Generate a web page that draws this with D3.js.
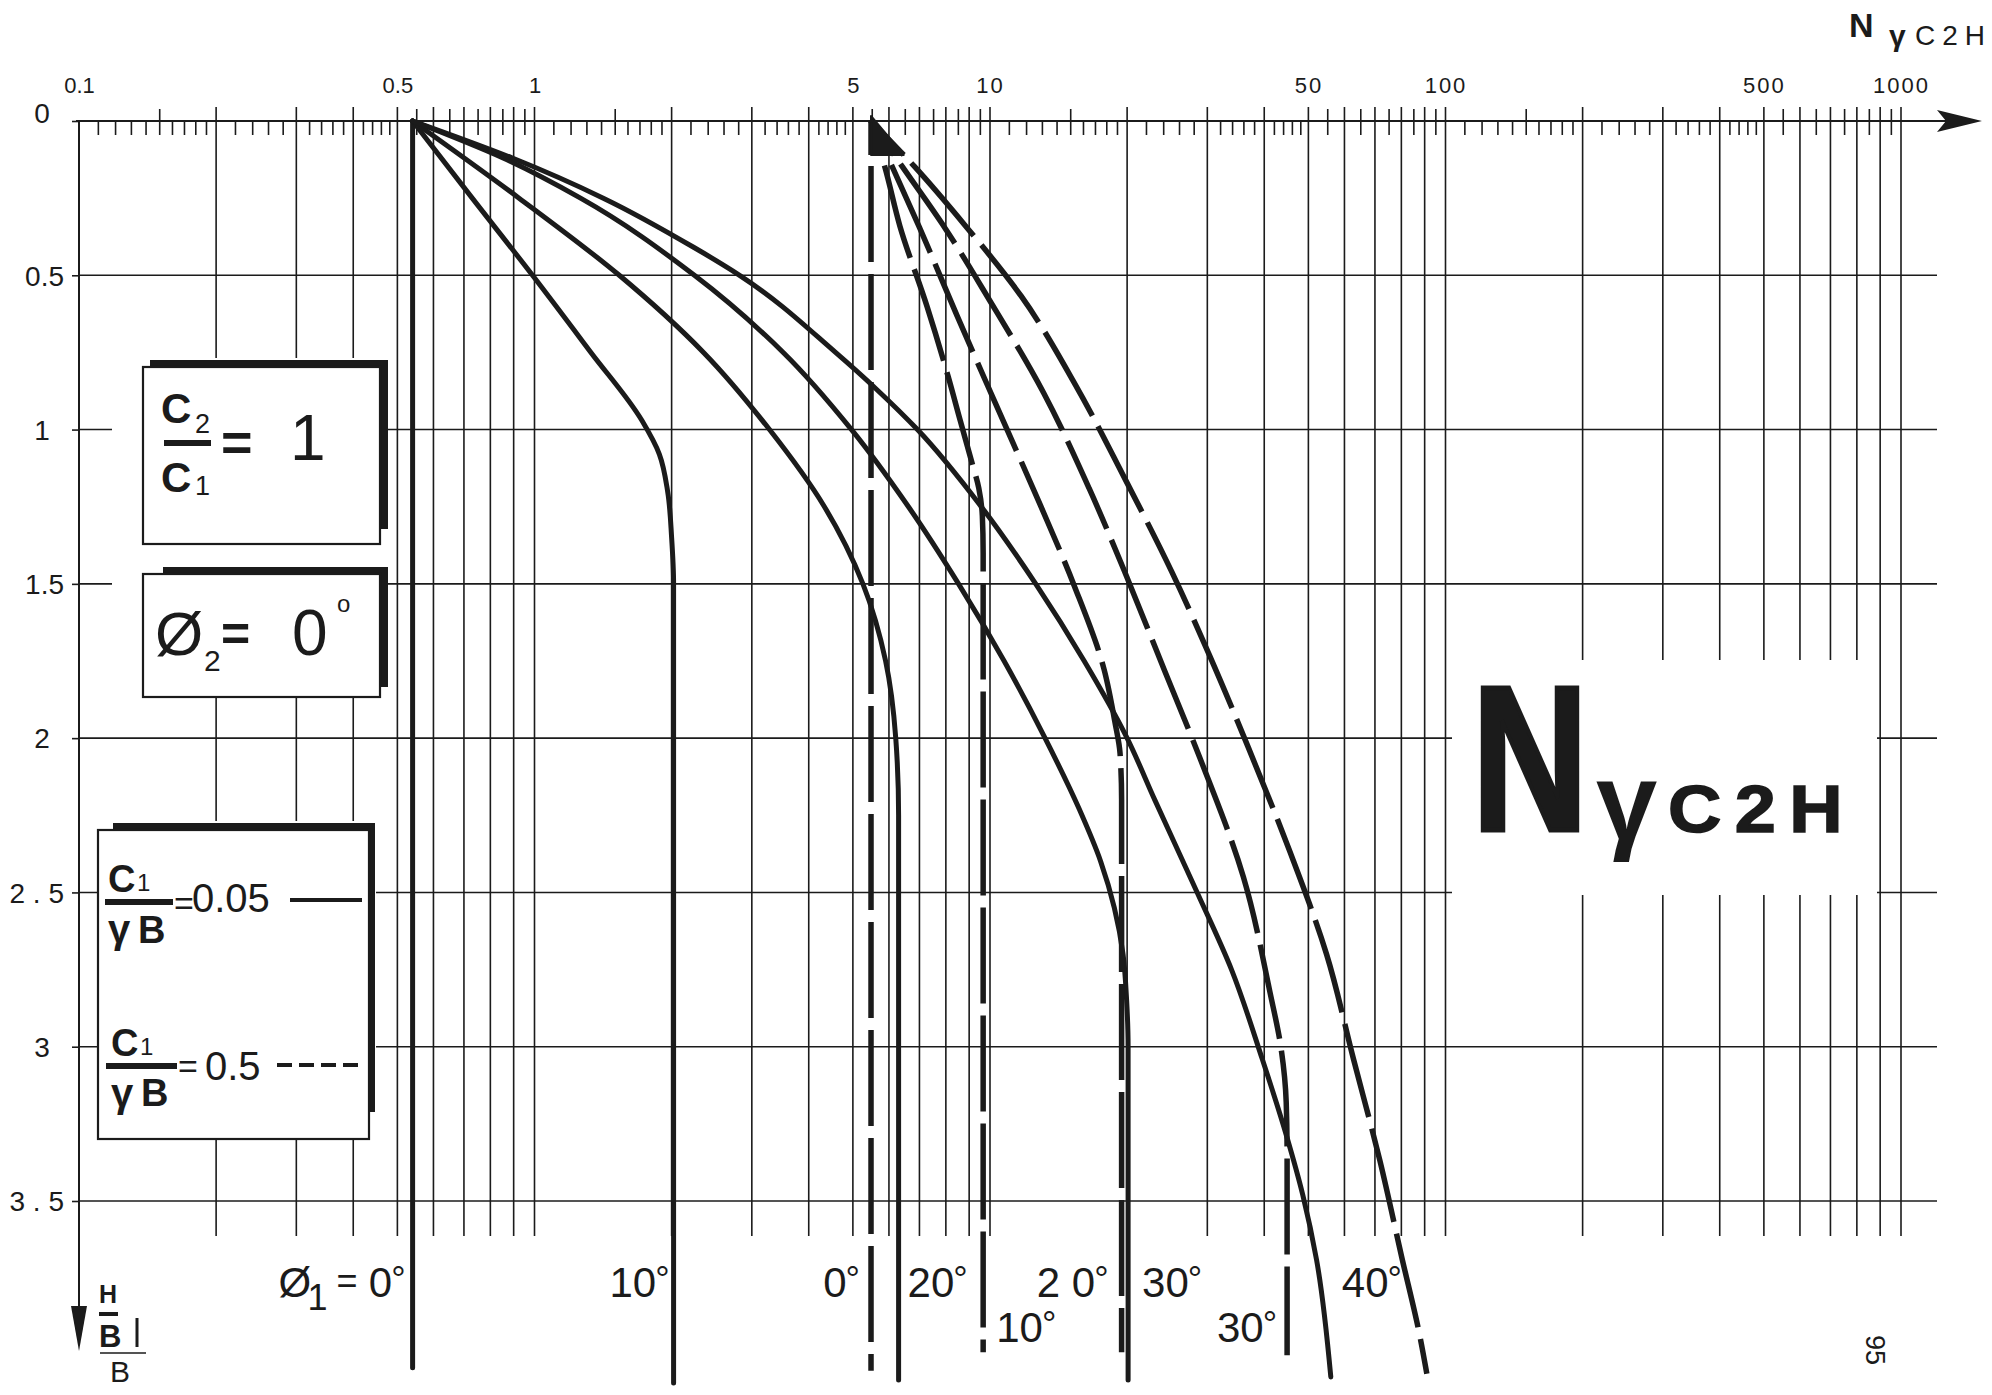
<!DOCTYPE html>
<html><head><meta charset="utf-8">
<script src="https://cdn.jsdelivr.net/npm/d3@7"></script>
<style>
html,body{margin:0;padding:0;background:#fff;}
svg{display:block;background:#fff;}
text{font-family:"Liberation Sans", Arial, Helvetica, sans-serif;fill:#1b1b1b;}
</style></head><body>
<svg id="chart" width="1992" height="1395"></svg>
<script>
// ---------------- DATA ----------------
const xTickValues = [0.1, 0.5, 1, 5, 10, 50, 100, 500, 1000];
const xTickLabels = ["0.1", "0.5", "1", "5", "10", "50", "100", "500", "1000"];
const yTickValues = [0, 0.5, 1, 1.5, 2, 2.5, 3, 3.5];
const yTickLabels = ["0", "0.5", "1", "1.5", "2", "2 . 5", "3", "3 . 5"];

// curves: [H/B, N_gammaC2H]   solid: C1/(gamma B) = 0.05
const solidPhi0  = [[0, 0.54], [4.04, 0.54]];
const solidPhi10 = [[0, 0.54], [0.25, 0.73], [0.5, 0.99], [0.75, 1.33], [0.97, 1.72], [1.08, 1.88], [1.2, 1.96], [1.35, 2.0], [1.5, 2.02], [4.09, 2.02]];
const solidPhi20 = [[0, 0.54], [0.25, 0.925], [0.5, 1.535], [0.75, 2.35], [1.0, 3.28], [1.25, 4.33], [1.5, 5.26], [1.75, 5.9], [2.0, 6.21], [2.25, 6.3], [4.08, 6.3]];
const solidPhi30 = [[0, 0.54], [0.12, 0.853], [0.25, 1.262], [0.5, 2.244], [0.75, 3.516], [1.0, 4.966], [1.25, 6.622], [1.5, 8.53], [1.75, 10.74], [2.0, 13.21], [2.23, 15.7], [2.4, 17.5], [2.55, 18.75], [2.7, 19.59], [2.85, 19.95], [3.0, 20.1], [4.08, 20.1]];
const solidPhi40 = [[0, 0.54], [0.12, 0.894], [0.25, 1.416], [0.41, 2.24], [0.5, 2.82], [0.75, 4.58], [0.87, 5.64], [1.0, 6.93], [1.25, 9.57], [1.5, 12.6], [1.75, 16.1], [2.0, 20.0], [2.2, 23.0], [2.5, 28.5], [2.75, 33.9], [3.04, 39.6], [3.29, 44.8], [3.48, 48.6], [3.69, 52.1], [4.07, 56.0]];

// dashed: C1/(gamma B) = 0.5
const dashedPhi0  = [[0, 5.48], [4.05, 5.48]];
const dashedPhi10 = [[0, 5.48], [0.15, 5.88], [0.34, 6.34], [0.6, 7.27], [0.83, 8.1], [0.97, 8.6], [1.1, 9.1], [1.19, 9.45], [1.28, 9.62], [1.4, 9.66], [3.99, 9.66]];
const dashedPhi20 = [[0, 5.48], [0.148, 6.1], [0.345, 7.0], [0.63, 8.46], [0.925, 10.35], [1.245, 12.9], [1.505, 15.3], [1.777, 17.8], [1.947, 18.8], [2.05, 19.3], [2.2, 19.45], [3.99, 19.45]];
const dashedPhi30 = [[0, 5.48], [0.148, 6.42], [0.345, 7.95], [0.58, 9.97], [0.88, 13.1], [1.19, 16.5], [1.476, 19.95], [1.777, 24.1], [2.07, 29.0], [2.45, 36.0], [2.825, 41.2], [3.0, 43.5], [3.18, 44.7], [3.35, 44.9], [4.0, 44.9]];
const dashedPhi40 = [[0, 5.48], [0.149, 6.84], [0.337, 8.8], [0.567, 11.7], [0.855, 15.4], [1.148, 19.6], [1.463, 25.1], [1.735, 30.4], [2.03, 36.9], [2.37, 45.6], [2.7, 54.8], [3.04, 62.8], [3.37, 71.8], [3.68, 80.1], [3.94, 87.9], [4.06, 91.0]];

const solidCurveLabels  = ["0°", "10°", "20°", "30°", "40°"];
const dashedCurveLabels = ["0°", "10°", "2 0°", "30°", ""];
const legendSolidValue  = "0.05";
const legendDashedValue = "0.5";

// ---------------- DRAWING ----------------
const INK = "#1b1b1b";
const FONT = '"Liberation Sans", Arial, Helvetica, sans-serif';
const svg = d3.select("#chart");

const x = d3.scaleLog().domain([0.1, 1000]).range([79, 1901]);
const y = d3.scaleLinear().domain([0, 3.5]).range([121, 1201]);
const axisY = y(0);
const gridBottom = 1236;
const gridRight = 1937;

// vertical grid lines
const gGrid = svg.append("g").attr("stroke", INK).attr("stroke-width", 1.6);
gGrid.selectAll("line.v").data(x.ticks().filter(v => v > 0.1)).join("line")
  .attr("x1", d => x(d)).attr("x2", d => x(d))
  .attr("y1", axisY - 14).attr("y2", gridBottom);
// horizontal grid lines
gGrid.selectAll("line.h").data(yTickValues.filter(v => v > 0)).join("line")
  .attr("x1", 79).attr("x2", gridRight)
  .attr("y1", d => y(d)).attr("y2", d => y(d));

// minor ticks on top axis
const minorShort = [], minorLong = [];
[0.1, 1, 10, 100].forEach(D => {
  for (let k = 11; k <= 19; k++) (k === 15 ? minorLong : minorShort).push(D * k / 10);
  for (let k = 11; k <= 24; k++) if (k % 5 !== 0) minorShort.push(D * k / 5);
  for (let k = 11; k <= 19; k += 2) minorLong.push(D * k / 2);
});
const axShort = d3.axisBottom(x).tickValues(minorShort).tickSize(14).tickFormat("");
const gShort = svg.append("g").attr("transform", `translate(0,${axisY})`).call(axShort);
gShort.select(".domain").remove();
gShort.selectAll("line").attr("stroke", INK).attr("stroke-width", 1.6);
const axLong = d3.axisBottom(x).tickValues(minorLong).tickSize(26).tickFormat("");
const gLong = svg.append("g").attr("transform", `translate(0,${axisY - 12})`).call(axLong);
gLong.select(".domain").remove();
gLong.selectAll("line").attr("stroke", INK).attr("stroke-width", 1.6);

// top axis line + arrow
svg.append("line").attr("x1", 76).attr("x2", 1950).attr("y1", axisY).attr("y2", axisY)
  .attr("stroke", INK).attr("stroke-width", 2);
svg.append("path")
  .attr("d", `M1937,${axisY - 11} L1982,${axisY} L1937,${axisY + 11} L1946,${axisY} Z`)
  .attr("fill", INK);

// top axis labels
const topAxis = d3.axisTop(x).tickValues(xTickValues)
  .tickFormat((d, i) => xTickLabels[i]).tickSize(0).tickPadding(0);
const gTop = svg.append("g").attr("transform", `translate(0,${axisY})`).call(topAxis);
gTop.select(".domain").remove();
gTop.attr("font-family", FONT).attr("font-size", 22);
gTop.selectAll("text").attr("y", -28).attr("dy", 0).attr("fill", INK)
  .attr("letter-spacing", d => d >= 10 ? 2 : 0);

// left axis (H/B)
svg.append("line").attr("x1", 79).attr("x2", 79).attr("y1", axisY).attr("y2", 1335)
  .attr("stroke", INK).attr("stroke-width", 2);
svg.append("path").attr("d", "M71,1306 L87,1306 L79,1351 Z").attr("fill", INK);
const leftAxis = d3.axisLeft(y).tickValues(yTickValues)
  .tickFormat((d, i) => yTickLabels[i]).tickSize(7).tickPadding(0);
const gLeft = svg.append("g").attr("transform", "translate(79,0)").call(leftAxis);
gLeft.select(".domain").remove();
gLeft.attr("font-family", FONT).attr("font-size", 28);
gLeft.selectAll("line").attr("stroke", INK).attr("stroke-width", 1.6);
gLeft.selectAll("text").attr("fill", INK).attr("dy", "0.35em")
  .attr("text-anchor", (d, i) => yTickLabels[i].length > 1 ? "end" : "middle")
  .attr("x", (d, i) => yTickLabels[i].length > 1 ? -15 : -37)
  .attr("y", d => d === 0 ? -8 : 0);

// white masks behind legend boxes and title
const masks = [[112, 358, 276, 339], [98, 821, 278, 318], [1452, 660, 425, 235]];
svg.append("g").selectAll("rect").data(masks).join("rect")
  .attr("x", d => d[0]).attr("y", d => d[1]).attr("width", d => d[2]).attr("height", d => d[3])
  .attr("fill", "#fff");

// legend boxes with shadow
function box(bx, by, bw, bh, sh) {
  svg.append("rect").attr("x", bx + sh[0]).attr("y", by - 7).attr("width", bw - sh[0] + sh[1])
    .attr("height", bh - sh[2]).attr("fill", INK);
  svg.append("rect").attr("x", bx).attr("y", by).attr("width", bw).attr("height", bh)
    .attr("fill", "#fff").attr("stroke", INK).attr("stroke-width", 2.2);
}
box(143, 367, 237, 177, [7, 8, 8]);
box(143, 574, 237, 123, [20, 8, 3]);
box(98, 830, 271, 309, [15, 6, 20]);

function txt(t, tx, ty, size, weight, extra) {
  const e = svg.append("text").attr("x", tx).attr("y", ty).attr("font-size", size)
    .attr("font-weight", weight || "normal").text(t);
  if (extra) extra(e);
  return e;
}
// box 1: C2/C1 = 1
txt("C", 161, 423, 42, "bold");
txt("2", 195, 433, 27);
svg.append("rect").attr("x", 164).attr("y", 440).attr("width", 47).attr("height", 6).attr("fill", INK);
txt("C", 161, 492, 42, "bold");
txt("1", 195, 495, 27);
txt("=", 221, 461, 54, "bold");
txt("1", 290, 460, 64);
// box 2: Ø2 = 0°
txt("Ø", 155, 655, 62);
txt("2", 204, 671, 30);
txt("=", 221, 651, 50, "bold");
txt("0", 292, 655, 64);
txt("o", 337, 612, 24);
// box 3: legend
txt("C", 108, 892, 38, "bold");
txt("1", 137, 891, 24);
svg.append("rect").attr("x", 105).attr("y", 899).attr("width", 68).attr("height", 6).attr("fill", INK);
txt("γ", 108, 943, 40, "bold");
txt("B", 138, 943, 38, "bold");
txt("=", 174, 915, 34);
txt(legendSolidValue, 192, 912, 40);
svg.append("line").attr("x1", 290).attr("x2", 362).attr("y1", 900).attr("y2", 900)
  .attr("stroke", INK).attr("stroke-width", 4);
txt("C", 111, 1056, 38, "bold");
txt("1", 140, 1055, 24);
svg.append("rect").attr("x", 106).attr("y", 1063).attr("width", 71).attr("height", 6).attr("fill", INK);
txt("γ", 111, 1107, 40, "bold");
txt("B", 141, 1106, 38, "bold");
txt("=", 178, 1078, 34);
txt(legendDashedValue, 205, 1080, 40);
svg.append("line").attr("x1", 277).attr("x2", 358).attr("y1", 1065).attr("y2", 1065)
  .attr("stroke", INK).attr("stroke-width", 4).attr("stroke-dasharray", "15 7");

// H/B axis title
txt("H", 99, 1303, 25, "bold");
svg.append("rect").attr("x", 99).attr("y", 1312).attr("width", 19).attr("height", 4).attr("fill", INK);
txt("B", 99, 1347, 31, "bold");
svg.append("line").attr("x1", 137).attr("x2", 137).attr("y1", 1318).attr("y2", 1347)
  .attr("stroke", INK).attr("stroke-width", 3);
svg.append("line").attr("x1", 100).attr("x2", 146).attr("y1", 1353).attr("y2", 1353)
  .attr("stroke", INK).attr("stroke-width", 1.5);
txt("B", 110, 1382, 30);

// titles
txt("N", 1849, 37, 34, "bold");
txt("γ", 1889, 46, 30, "bold");
txt("C2H", 1915, 45, 28, null, e => e.attr("letter-spacing", 7));
svg.append("text").attr("transform", "translate(1530,830) scale(0.78,1)")
  .attr("text-anchor", "middle").attr("font-size", 206).attr("font-weight", "bold")
  .attr("stroke", INK).attr("stroke-width", 5).text("N");
txt("γ", 1596, 839, 110, "bold");
svg.append("text").attr("transform", "translate(1668,832) scale(1.12,1)")
  .attr("font-size", 66).attr("font-weight", "bold").attr("letter-spacing", 12)
  .attr("stroke", INK).attr("stroke-width", 1.5).text("C2H");
svg.append("text").attr("transform", "translate(1866,1350) rotate(90)")
  .attr("text-anchor", "middle").attr("font-size", 27).text("95");

// ---------------- CURVES ----------------
const line = d3.line().x(d => x(d[1])).y(d => y(d[0])).curve(d3.curveMonotoneY);
const solidCurves = [solidPhi0, solidPhi10, solidPhi20, solidPhi30, solidPhi40];
const dashedCurves = [dashedPhi0, dashedPhi10, dashedPhi20, dashedPhi30, dashedPhi40];

const gS = svg.append("g");
solidCurves.forEach(c => {
  gS.append("path").attr("d", line(c)).attr("fill", "none").attr("stroke", INK)
    .attr("stroke-width", 5).attr("stroke-linecap", "round").attr("stroke-linejoin", "round");
});

const gD = svg.append("g");
const wedgeY = y(0.11);
const wedgePts = [[x(dashedPhi0[0][1]), y(dashedPhi0[0][0]) - 5]];
dashedCurves.forEach(c => {
  const p = gD.append("path").attr("d", line(c)).attr("fill", "none").attr("stroke", INK)
    .attr("stroke-width", 5.5);
  const node = p.node();
  const L = node.getTotalLength();
  let lo = 0, hi = L;
  for (let i = 0; i < 40; i++) {
    const m = (lo + hi) / 2;
    if (node.getPointAtLength(m).y < wedgeY) lo = m; else hi = m;
  }
  const pt = node.getPointAtLength(lo);
  wedgePts.push([pt.x, pt.y]);
  const arr = [lo, 11];
  let acc = lo + 11;
  while (acc < L + 120) { arr.push(96, 12); acc += 108; }
  p.attr("stroke-dasharray", arr.map(v => v.toFixed(1)).join(" "));
});
gD.append("polygon").attr("points", wedgePts.map(p => p.join(",")).join(" "))
  .attr("fill", INK).attr("stroke", INK).attr("stroke-width", 2).attr("stroke-linejoin", "round");

// ---------------- CURVE LABELS ----------------
const rowY = [1297, 1342];
function degLabel(t, px, py, anchor) {
  const e = svg.append("text").attr("x", px).attr("y", py).attr("font-size", 42)
    .attr("text-anchor", anchor);
  e.append("tspan").text(t.replace("°", ""));
  e.append("tspan").attr("font-size", 36).attr("dx", -1).attr("dy", -5).text("°");
  return e;
}
const solidLabelLayout  = [["end", 7, 0], ["end", 4, 0], ["start", 9, 0], ["start", 14, 0], ["start", 11, 0]];
const dashedLabelLayout = [["end", 11, 0], ["start", 13, 1], ["end", 13, 0], ["end", 10, 1], null];
function placeLabels(curves, labels, layout) {
  curves.forEach((c, i) => {
    if (!labels[i] || !layout[i]) return;
    const [anchor, gap, row] = layout[i];
    const cx = x(c[c.length - 1][1]);
    degLabel(labels[i], anchor === "end" ? cx - gap : cx + gap, rowY[row], anchor);
  });
}
placeLabels(solidCurves, solidCurveLabels, solidLabelLayout);
placeLabels(dashedCurves, dashedCurveLabels, dashedLabelLayout);
// "Ø1 =" prefix before the first solid label
const base0 = x(solidPhi0[solidPhi0.length - 1][1]) - 7 - 36;
txt("Ø", base0 - 91, 1297, 42);
txt("1", base0 - 62, 1310, 36);
txt("=", base0 - 33, 1293, 36);
</script>
</body></html>
